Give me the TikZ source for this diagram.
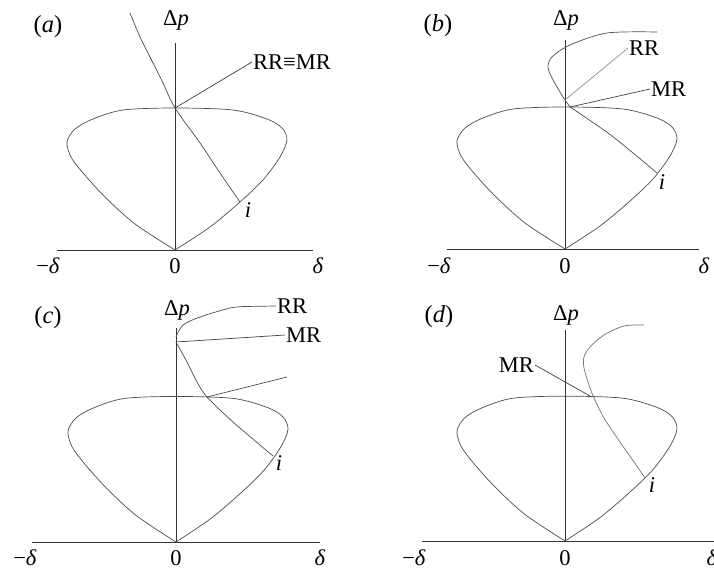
\documentclass[tikz,border=0pt]{standalone}
\usepackage{fontspec}
\setmainfont{Liberation Serif}
\begin{document}
\begin{tikzpicture}[x=1pt,y=-1pt,
  every node/.style={font=\fontsize{22.5}{26}\selectfont, inner sep=1pt},
  axis/.style={draw=black!80, line width=0.7pt},
  curve/.style={draw=black!70, line width=0.7pt},
  lead/.style={draw=black!75, line width=0.7pt},
  panellab/.style={font=\fontsize{24.5}{28}\selectfont},
  ticklab/.style={anchor=base}]
\useasboundingbox (0,0) rectangle (714,569);
\newcommand{\drawloop}{\draw[curve] plot[smooth, tension=0.5] coordinates {(0,0) (35,-23) (65,-48) (88,-70) (105,-93) (112,-110) (107,-122) (92,-131) (58,-140) (0,-142) (-52,-140) (-82,-131) (-100,-121) (-108,-108) (-104,-93) (-92,-77) (-70,-53) (-40,-26) (0,0)};}

% ---------------- panel (a)
\coordinate (aO) at (175,250);
\coordinate (aAt) at (175,43);
\coordinate (aXl) at (57,250);
\coordinate (aXr) at (313,250);
\draw[axis] (aAt) -- (aO);
\draw[axis] (aXl) -- (aXr);
\begin{scope}[shift={(aO)}]\drawloop\end{scope}
\node[panellab] (alab) at (48,27) {(\textit{a})};
\node (adp) at (176,20) {Δ\textit{p}};
\node[ticklab] (amd) at (48,273) {−\textit{δ}};
\node[ticklab] (azero) at (175,273) {0};
\node[ticklab] (ad) at (318,273) {\textit{δ}};
\coordinate (aT) at (175,108);
\coordinate (ai) at (240,202);
\draw[curve] plot[smooth] coordinates {(130,13) (140,37) (150,57) (163,83) (175,108) (200,143) (220,173) (240,202)};
\node[anchor=west] (arr) at (252,62) {RR≡MR};
\draw[lead] (aT) -- (arr.west);
\node (ailab) at (248,210) {\textit{i}};

% ---------------- panel (b)
\coordinate (bO) at (565,249);
\coordinate (bAt) at (565,40);
\coordinate (bXl) at (447,249);
\coordinate (bXr) at (699,249);
\draw[axis] (bAt) -- (bO);
\draw[axis] (bXl) -- (bXr);
\begin{scope}[shift={(bO)}]\drawloop\end{scope}
\node[panellab] (blab) at (438,26) {(\textit{b})};
\node (bdp) at (566,20) {Δ\textit{p}};
\node[ticklab] (bmd) at (439,273) {−\textit{δ}};
\node[ticklab] (bzero) at (565,273) {0};
\node[ticklab] (bd) at (704,273) {\textit{δ}};
\coordinate (bR) at (565,100);
\coordinate (bM) at (570,107);
\coordinate (bi) at (657,173);
\draw[curve] plot[smooth] coordinates {(657,32) (607,33) (570,45) (552,57) (548,67) (552,78) (560,92) (565,100) (570,107)};
\draw[curve] plot[smooth] coordinates {(570,107) (612,136) (657,173)};
\node[anchor=west] (brr) at (628,48) {RR};
\node[anchor=west] (bmr) at (650,89) {MR};
\draw[lead, draw=black!45] (bR) -- (brr.west);
\draw[lead] (bM) -- (bmr.west);
\node (bilab) at (662,182) {\textit{i}};

% ---------------- panel (c)
\coordinate (cO) at (176,542);
\coordinate (cAt) at (176,328);
\coordinate (cXl) at (32,542);
\coordinate (cXr) at (320,542);
\draw[axis] (cAt) -- (cO);
\draw[axis] (cXl) -- (cXr);
\begin{scope}[shift={(cO)}, yscale=1.025]\drawloop\end{scope}
\node[panellab] (clab) at (48,318) {(\textit{c})};
\node (cdp) at (177,310) {Δ\textit{p}};
\node[ticklab] (cmd) at (25,565) {−\textit{δ}};
\node[ticklab] (czero) at (176,565) {0};
\node[ticklab] (cd) at (320,565) {\textit{δ}};
\coordinate (cR) at (176,337);
\coordinate (cM) at (176,342);
\coordinate (cX) at (207,397);
\coordinate (ci) at (273,456);
\coordinate (cE) at (287,377);
\node[anchor=west] (crr) at (276,306) {RR};
\node[anchor=west] (cmr) at (285,335) {MR};
\draw[curve] plot[smooth] coordinates {(176,337) (183,325) (200,317) (230,308) (245,306.5)} -- (crr.west);
\draw[lead] (cM) -- (cmr.west);
\draw[curve] plot[smooth] coordinates {(176,342) (187,362) (197,382) (207,397) (233,422) (273,456)};
\draw[lead] (cX) -- (cE);
\node (cilab) at (279,463) {\textit{i}};

% ---------------- panel (d)
\coordinate (dO) at (565,541);
\coordinate (dAt) at (565,330);
\coordinate (dXl) at (422,541);
\coordinate (dXr) at (714,541);
\draw[axis] (dAt) -- (dO);
\draw[axis] (dXl) -- (dXr);
\begin{scope}[shift={(dO)}, yscale=1.02]\drawloop\end{scope}
\node[panellab] (dlab) at (439,317) {(\textit{d})};
\node (ddp) at (566,315) {Δ\textit{p}};
\node[ticklab] (dmd) at (414,565) {−\textit{δ}};
\node[ticklab] (dzero) at (565,565) {0};
\node[ticklab] (dd) at (712,565) {\textit{δ}};
\coordinate (dM) at (590,396);
\coordinate (di) at (645,478);
\draw[curve, draw=black!55] plot[smooth] coordinates {(644,325) (624,326) (604,335) (590,347) (584,357) (584,368) (589,385) (594,398) (604,418) (620,442) (634,462) (645,478)};
\node[anchor=east] (dmr) at (535,365) {MR};
\draw[lead] (dmr.east) -- (dM);
\node (dilab) at (652,485) {\textit{i}};
\end{tikzpicture}
\end{document}
